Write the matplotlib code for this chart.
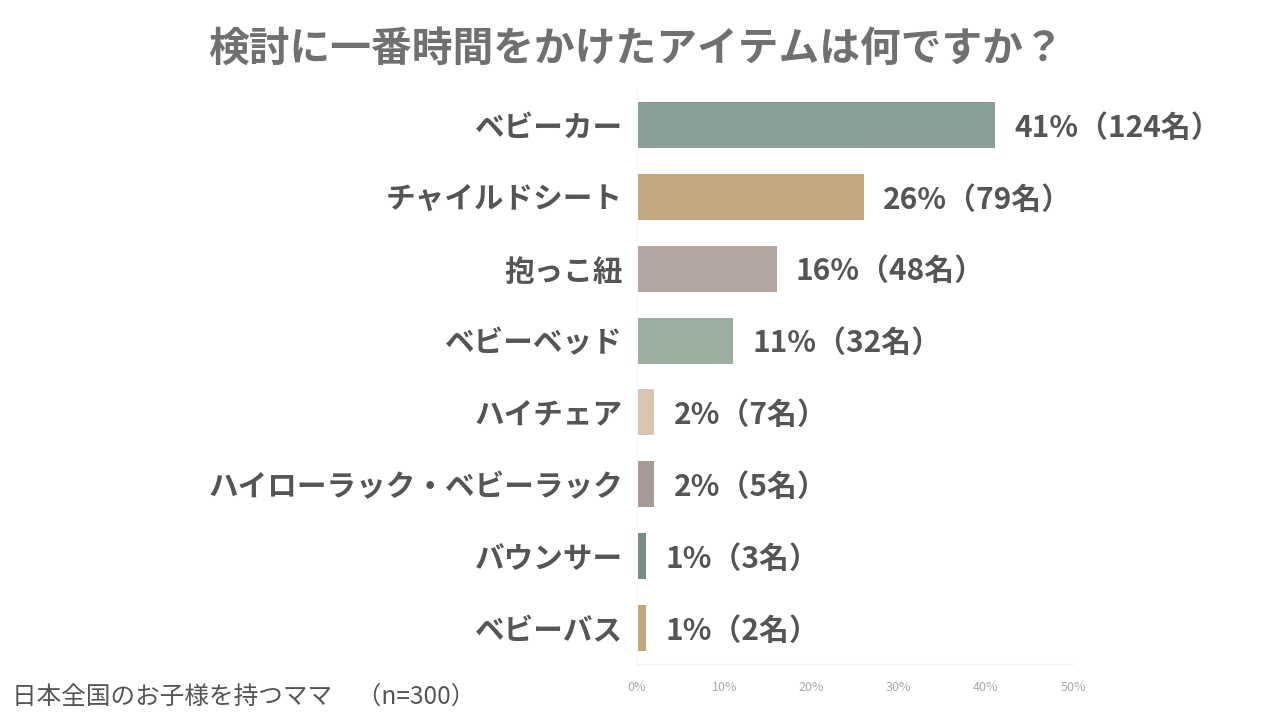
import matplotlib
matplotlib.use("Agg")
import matplotlib.pyplot as plt

plt.rcParams['font.family'] = ['Noto Sans CJK JP', 'DejaVu Sans']

# data
items = ["ベビーカー", "チャイルドシート", "抱っこ紐", "ベビーベッド",
         "ハイチェア", "ハイローラック・ベビーラック", "バウンサー", "ベビーバス"]
percents = [41, 26, 16, 11, 2, 2, 1, 1]
counts = [124, 79, 48, 32, 7, 5, 3, 2]
colors = ["#8A9E98", "#C4A77F", "#B3A59F", "#9BAFA1",
          "#D8C6AF", "#A89A96", "#7A8C86", "#C4A77F"]
ticks = [0, 10, 20, 30, 40, 50]

fig = plt.figure(figsize=(12.8, 7.2), dpi=100)
ax = fig.add_axes([637 / 1280, 1 - 664 / 720, 436 / 1280, 575 / 720])

ypos = list(range(len(items)))
ax.barh(ypos, percents, height=0.64, color=colors)
ax.set_ylim(len(items) - 0.5, -0.5)
ax.set_xlim(0, 50)

ax.set_yticks(ypos)
ax.set_yticklabels(items, fontsize=21.3, fontweight='bold', color='#555555')
ax.tick_params(axis='y', length=0, pad=10)
ax.set_xticks(ticks)
ax.set_xticklabels([f"{t}%" for t in ticks], fontsize=9, color='#AAAAAA')
ax.tick_params(axis='x', length=0, pad=12)

for s in ['top', 'right']:
    ax.spines[s].set_visible(False)
ax.spines['bottom'].set_color('#F2F2F2')
ax.spines['left'].set_color('#F6F6F6')

for y, p, c in zip(ypos, percents, counts):
    ax.annotate(f"{p}%（{c}名）", xy=(p, y), xytext=(14, -2),
                textcoords='offset points', va='center', ha='left',
                fontsize=21.5, fontweight='bold', color='#555555')

fig.text(0.497, 0.932, "検討に一番時間をかけたアイテムは何ですか？",
         ha='center', va='center', fontsize=29.3, fontweight='bold', color='#707070')
fig.text(12 / 1280, 1 - 697 / 720, "日本全国のお子様を持つママ　（n=300）",
         ha='left', va='center', fontsize=17.7, color='#555555')

fig.savefig("out.png", dpi=100)
